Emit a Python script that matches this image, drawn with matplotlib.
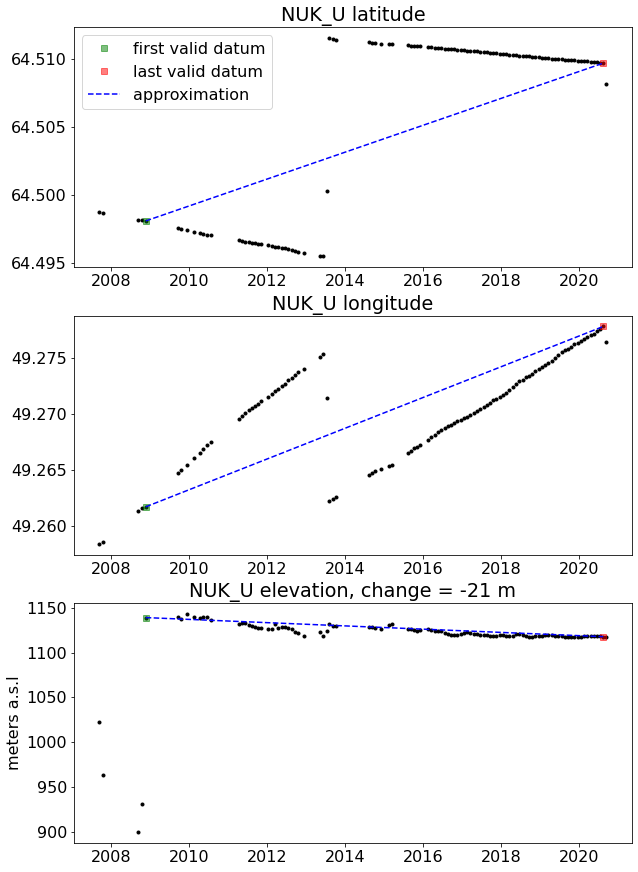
import matplotlib
matplotlib.use("Agg")
import matplotlib.pyplot as plt
from matplotlib.ticker import ScalarFormatter

site = "NUK_U"

dates = [
    2007.69, 2007.79,
    2008.69, 2008.78, 2008.88,
    2009.70, 2009.78, 2009.95, 2010.11, 2010.27, 2010.36, 2010.46, 2010.55,
    2011.27, 2011.36, 2011.44, 2011.52, 2011.61, 2011.69, 2011.77, 2011.85,
    2012.03, 2012.12, 2012.20, 2012.28, 2012.37, 2012.45, 2012.53, 2012.63,
    2012.71, 2012.78, 2012.95,
    2013.35, 2013.43, 2013.54,
    2013.59, 2013.68, 2013.76,
    2014.60, 2014.69, 2014.77, 2014.93, 2015.12, 2015.20,
    2015.60, 2015.69, 2015.77, 2015.85, 2015.93,
    2016.13, 2016.21, 2016.30, 2016.38, 2016.46, 2016.55, 2016.63, 2016.71,
    2016.80, 2016.88, 2016.96, 2017.05, 2017.13, 2017.21, 2017.30, 2017.38,
    2017.46, 2017.55, 2017.63, 2017.71, 2017.80, 2017.88, 2017.96, 2018.05,
    2018.13, 2018.21, 2018.30, 2018.38, 2018.46, 2018.55, 2018.63, 2018.71,
    2018.80, 2018.88, 2018.96, 2019.05, 2019.13, 2019.21, 2019.30, 2019.38,
    2019.46, 2019.55, 2019.63, 2019.71, 2019.80, 2019.88, 2019.96, 2020.05,
    2020.13, 2020.21, 2020.30, 2020.38, 2020.46, 2020.54, 2020.62,
    2020.70,
]

lat = [
    64.49880, 64.49872,
    64.49818, 64.49818, 64.49811,
    64.49759, 64.49752, 64.49745, 64.49732, 64.49723, 64.49715, 64.49710, 64.49708,
    64.49674, 64.49664, 64.49659, 64.49657, 64.49652, 64.49647, 64.49644, 64.49639,
    64.49630, 64.49627, 64.49622, 64.49617, 64.49613, 64.49608, 64.49605, 64.49600,
    64.49591, 64.49583, 64.49576,
    64.49556, 64.49554, 64.50031,
    64.51157, 64.51149, 64.51147,
    64.51127, 64.51125, 64.51120, 64.51115, 64.51113, 64.51111,
    64.51105, 64.51103, 64.51100, 64.51100, 64.51098,
    64.51092, 64.51090, 64.51087, 64.51086, 64.51083, 64.51080, 64.51079, 64.51077,
    64.51075, 64.51073, 64.51071, 64.51068, 64.51066, 64.51064, 64.51062, 64.51059,
    64.51057, 64.51055, 64.51053, 64.51051, 64.51048, 64.51046, 64.51043, 64.51041,
    64.51039, 64.51036, 64.51034, 64.51031, 64.51029, 64.51027, 64.51025, 64.51023,
    64.51020, 64.51018, 64.51015, 64.51013, 64.51011, 64.51008, 64.51007, 64.51005,
    64.51002, 64.51000, 64.50999, 64.50997, 64.50995, 64.50993, 64.50992, 64.50990,
    64.50988, 64.50986, 64.50984, 64.50982, 64.50979, 64.50977, 64.50973,
    64.50817,
]

lon = [
    49.25840, 49.25858,
    49.26133, 49.26160, 49.26172,
    49.26470, 49.26497, 49.26544, 49.26604, 49.26654, 49.26690, 49.26722, 49.26749,
    49.26950, 49.26980, 49.27006, 49.27033, 49.27056, 49.27071, 49.27089, 49.27110,
    49.27151, 49.27175, 49.27204, 49.27222, 49.27246, 49.27269, 49.27299, 49.27320,
    49.27343, 49.27373, 49.27402,
    49.27503, 49.27530, 49.27145,
    49.26222, 49.26240, 49.26260,
    49.26453, 49.26470, 49.26488, 49.26509, 49.26536, 49.26541,
    49.26648, 49.26671, 49.26693, 49.26707, 49.26725,
    49.26766, 49.26792, 49.26811, 49.26837, 49.26858, 49.26877, 49.26888, 49.26905,
    49.26920, 49.26933, 49.26948, 49.26965, 49.26976, 49.26991, 49.27008, 49.27022,
    49.27041, 49.27058, 49.27080, 49.27100, 49.27125, 49.27136, 49.27152, 49.27170,
    49.27184, 49.27210, 49.27235, 49.27266, 49.27290, 49.27302, 49.27325, 49.27340,
    49.27357, 49.27378, 49.27395, 49.27416, 49.27432, 49.27450, 49.27473, 49.27493,
    49.27522, 49.27549, 49.27566, 49.27578, 49.27597, 49.27618, 49.27631, 49.27648,
    49.27666, 49.27685, 49.27703, 49.27715, 49.27734, 49.27755, 49.27778,
    49.27638,
]

elev = [
    1022.4, 963.4,
    900.0, 931.2, 1139.2,
    1140.0, 1138.1, 1143.0, 1139.6, 1138.5, 1139.6, 1140.0, 1137.0,
    1131.8, 1133.3, 1133.3, 1131.0, 1130.3, 1128.5, 1127.7, 1127.7,
    1127.0, 1127.0, 1132.2, 1127.7, 1128.9, 1128.9, 1127.7, 1125.9,
    1122.9, 1122.2, 1118.1,
    1122.9, 1118.8, 1124.0,
    1132.2, 1129.6, 1129.6,
    1128.5, 1128.5, 1127.7, 1127.0, 1131.0, 1131.8,
    1127.0, 1126.3, 1125.5, 1123.7, 1125.1,
    1126.0, 1125.3, 1124.6, 1124.2, 1124.6, 1122.5, 1120.5, 1119.6,
    1119.3, 1119.6, 1120.4, 1121.5, 1122.8, 1122.0, 1121.0, 1120.5,
    1120.0, 1119.6, 1119.3, 1118.9, 1119.0, 1118.8, 1119.5, 1119.8,
    1119.0, 1118.6, 1118.3, 1120.5, 1120.8, 1119.5, 1118.8, 1118.0,
    1117.8, 1118.4, 1118.9, 1118.7, 1119.3, 1119.6, 1119.4, 1119.0,
    1118.6, 1118.8, 1118.0, 1117.2, 1117.0, 1117.5, 1117.6, 1117.3,
    1118.2, 1118.6, 1119.0, 1118.5, 1118.7, 1118.3, 1117.9,
    1117.0,
]

first_valid = 4
last_valid = 103

plt.rcParams['font.size'] = 16
DPI = 72
fig = plt.figure(figsize=(638 / DPI, 872 / DPI), dpi=DPI)

left, right = 74 / 638, 631.7 / 638
panels = [(27.3, 266.7), (315.6, 555.0), (603.3, 842.7)]
axes = []
for top, bot in panels:
    ax = fig.add_axes([left, 1 - bot / 872, right - left, (bot - top) / 872])
    axes.append(ax)

series = [(lat, f"{site} latitude"), (lon, f"{site} longitude"),
          (elev, f"{site} elevation, change = -21 m")]

for i, (ax, (vals, title)) in enumerate(zip(axes, series)):
    ax.plot(dates, vals, 'k.')
    ax.plot(dates[first_valid], vals[first_valid], 'gs', alpha=0.5,
            label='first valid datum')
    ax.plot(dates[last_valid], vals[last_valid], 'rs', alpha=0.5,
            label='last valid datum')
    ax.plot([dates[first_valid], dates[last_valid]],
            [vals[first_valid], vals[last_valid]], 'b--', label='approximation')
    ax.set_title(title)
    fmt = ScalarFormatter(useOffset=False)
    ax.yaxis.set_major_formatter(fmt)
    ax.set_xticks([2008, 2010, 2012, 2014, 2016, 2018, 2020])

axes[0].legend(loc='upper left')
axes[2].set_ylabel('meters a.s.l')

fig.savefig('out.png', dpi=DPI)
